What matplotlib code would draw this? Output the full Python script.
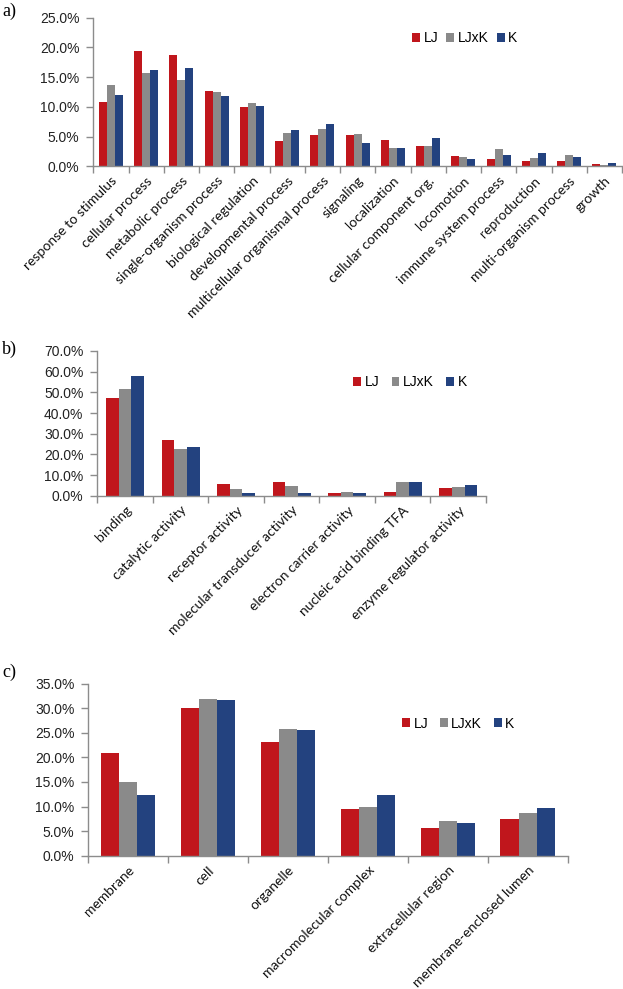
import numpy as np
import matplotlib
matplotlib.use('Agg')
import matplotlib.pyplot as plt
from matplotlib.patches import Patch
from matplotlib.ticker import FuncFormatter

# GO categories: biological process (a), molecular function (b), cellular component (c)
series_names = ['LJ', 'LJxK', 'K']
colors = ['#C0161C', '#8A8A8A', '#23427F']

bp_labels = ['response to stimulus', 'cellular process', 'metabolic process',
             'single-organism process', 'biological regulation', 'developmental process',
             'multicellular organismal process', 'signaling', 'localization',
             'cellular component org.', 'locomotion', 'immune system process',
             'reproduction', 'multi-organism process', 'growth']
bp_lj = [10.9, 19.45, 18.7, 12.6, 9.9, 4.3, 5.3, 5.3, 4.4, 3.35, 1.7, 1.25, 0.95, 0.95, 0.35]
bp_ljxk = [13.6, 15.75, 14.6, 12.45, 10.6, 5.6, 6.3, 5.4, 3.0, 3.35, 1.5, 2.9, 1.4, 1.95, 0.25]
bp_k = [12.05, 16.15, 16.6, 11.8, 10.2, 6.1, 7.1, 3.85, 3.1, 4.7, 1.25, 1.85, 2.2, 1.6, 0.6]

mf_labels = ['binding', 'catalytic activity', 'receptor activity',
             'molecular transducer activity', 'electron carrier activity',
             'nucleic acid binding TFA', 'enzyme regulator activity']
mf_lj = [47.4, 26.9, 5.5, 6.8, 1.3, 1.9, 3.7]
mf_ljxk = [51.8, 22.4, 3.4, 4.7, 1.9, 6.45, 4.0]
mf_k = [57.9, 23.4, 1.3, 1.3, 1.3, 6.45, 5.2]

cc_labels = ['membrane', 'cell', 'organelle', 'macromolecular complex',
             'extracellular region', 'membrane-enclosed lumen']
cc_lj = [20.95, 30.0, 23.05, 9.5, 5.6, 7.5]
cc_ljxk = [15.05, 31.9, 25.7, 9.9, 7.1, 8.6]
cc_k = [12.4, 31.7, 25.5, 12.4, 6.7, 9.65]

W, H = 623, 989
fig = plt.figure(figsize=(W / 100, H / 100), dpi=100)

axis_col = '#8C8C8C'
bar_w = 0.227


def px_rect(left, right, top, bottom):
    return [left / W, 1 - bottom / H, (right - left) / W, (bottom - top) / H]


def draw_panel(rect, labels, vals, ymax, step, leg_x, leg_y, colspace, letter, letter_y):
    ax = fig.add_axes(rect)
    n = len(labels)
    x = np.arange(n) + 0.5
    for i, (v, c) in enumerate(zip(vals, colors)):
        ax.bar(x + (i - 1) * bar_w, v, width=bar_w, color=c, edgecolor='none')
    ax.set_xlim(0, n)
    ax.set_ylim(0, ymax)
    ax.set_yticks(np.arange(0, ymax + 0.01, step))
    ax.yaxis.set_major_formatter(FuncFormatter(lambda v, p: '%.1f%%' % v))
    ax.set_xticks(np.arange(n + 1))
    ax.set_xticklabels([])
    ax.set_xticks(x, minor=True)
    ax.set_xticklabels(labels, minor=True, rotation=45, ha='right', va='top',
                       rotation_mode='anchor', family='Lato', fontsize=10,
                       color='#111111')
    ax.tick_params(axis='x', which='minor', length=0, pad=6)
    ax.tick_params(axis='x', which='major', length=5, width=1, color=axis_col, direction='out')
    ax.tick_params(axis='y', length=5, width=1, color=axis_col, direction='out', pad=5,
                   labelsize=10)
    for lab in ax.get_yticklabels():
        lab.set_family('Liberation Sans')
        lab.set_color('#222222')
    for s in ['top', 'right']:
        ax.spines[s].set_visible(False)
    for s in ['left', 'bottom']:
        ax.spines[s].set_color(axis_col)
        ax.spines[s].set_linewidth(1)
    handles = [Patch(facecolor=c, edgecolor='none', label=nm) for c, nm in zip(colors, series_names)]
    ax.legend(handles=handles, ncol=3, loc='center left',
              bbox_to_anchor=(leg_x / W, 1 - leg_y / H), bbox_transform=fig.transFigure,
              frameon=False, borderpad=0, borderaxespad=0, handlelength=0.57,
              handleheight=0.64, handletextpad=0.25, columnspacing=colspace,
              prop={'family': 'Liberation Sans', 'size': 10})
    fig.text(2 / W, 1 - letter_y / H, letter, family='Liberation Serif', fontsize=13,
             ha='left', va='top')
    return ax


draw_panel(px_rect(93.3, 622, 17.7, 166.3), bp_labels, [bp_lj, bp_ljxk, bp_k],
           25, 5, 412, 38.5, 0.6, 'a)', 3)
draw_panel(px_rect(97.3, 486, 351, 495.7), mf_labels, [mf_lj, mf_ljxk, mf_k],
           70, 10, 353, 382.5, 0.9, 'b)', 341)
draw_panel(px_rect(88.3, 567.6, 683.7, 855.7), cc_labels, [cc_lj, cc_ljxk, cc_k],
           35, 5, 402, 723.5, 0.85, 'c)', 664)

fig.savefig('out.png', dpi=100)
